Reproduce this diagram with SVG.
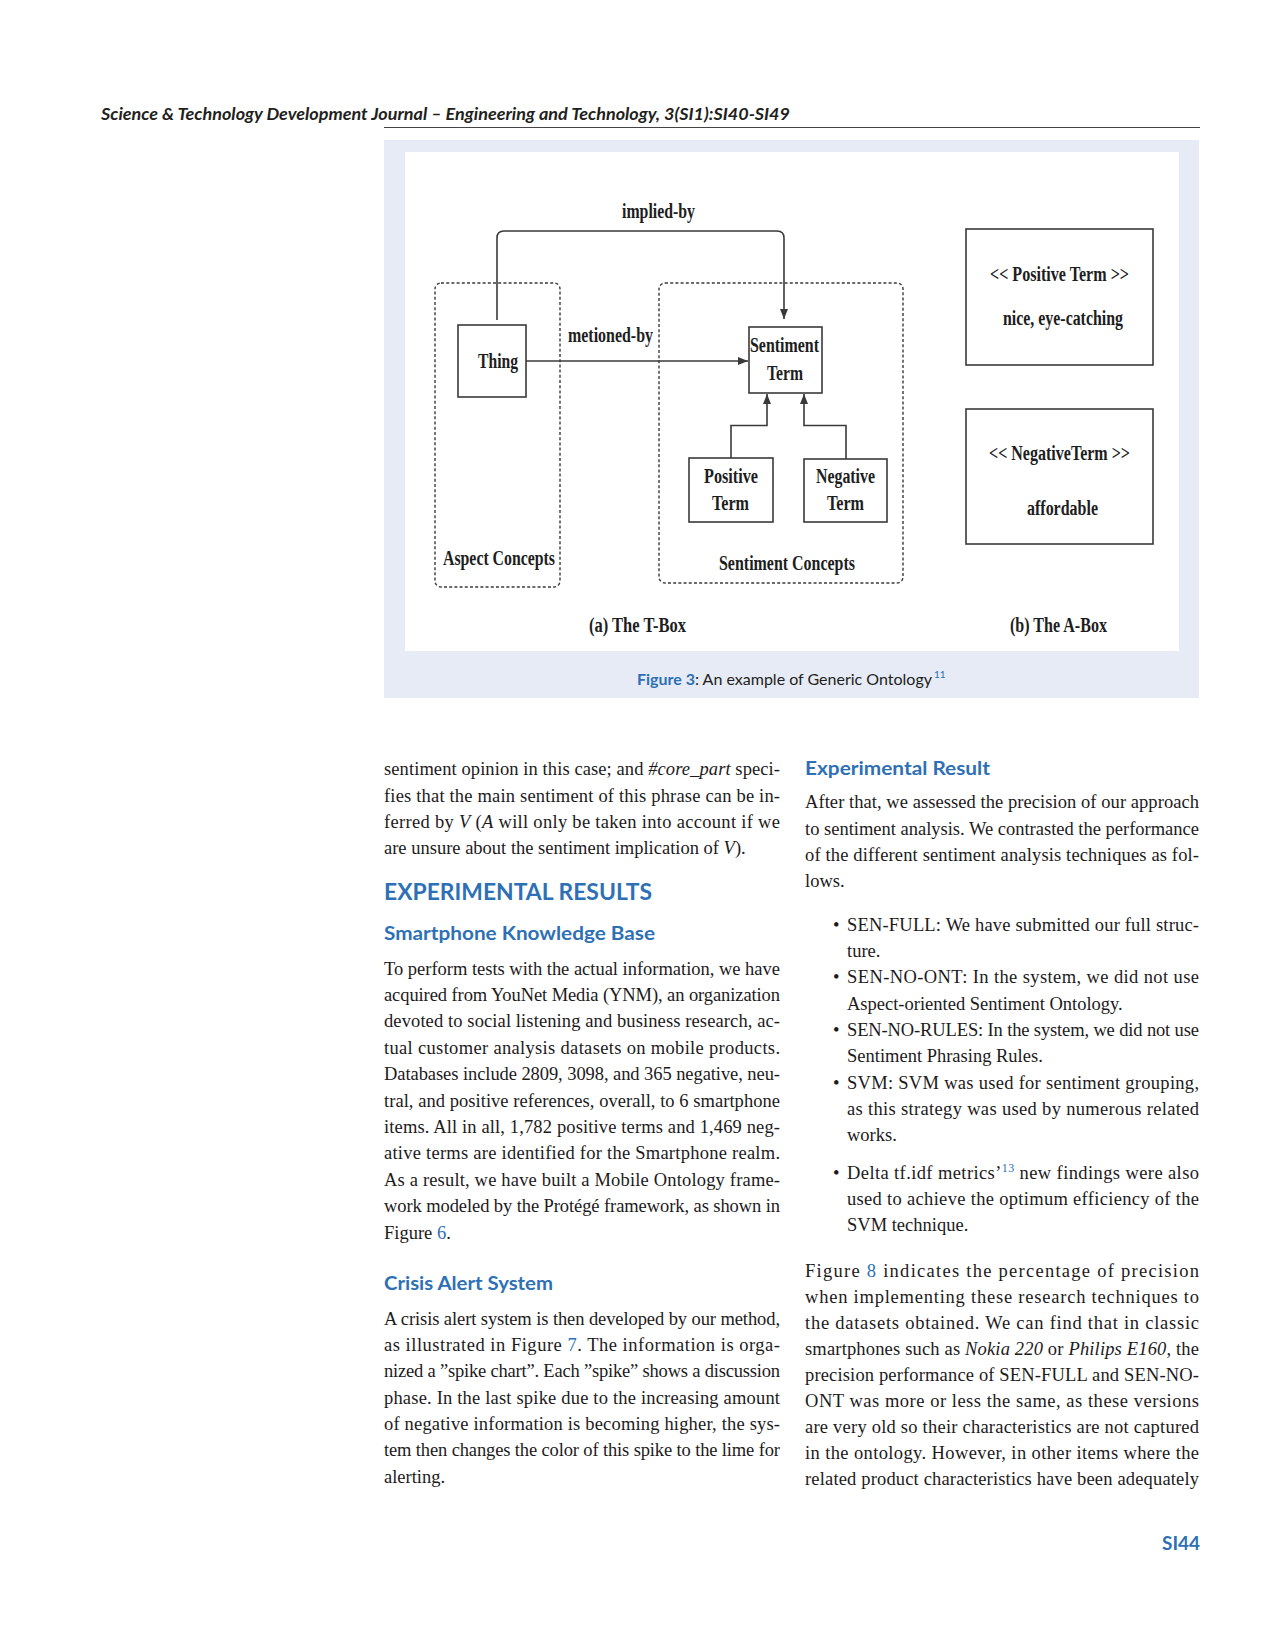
<svg xmlns="http://www.w3.org/2000/svg" width="1276" height="1649" viewBox="0 0 1276 1649">
<style>
.fig{font-family:"Liberation Serif","Times New Roman",serif;font-weight:bold;fill:#1e1e1e}
.box{fill:#fff;stroke:#3a3a3a;stroke-width:1.6}
.grp{fill:none;stroke:#3a3a3a;stroke-width:1.4;stroke-dasharray:3 2.2}
.con{fill:none;stroke:#3a3a3a;stroke-width:1.6}
.body{font-family:"Liberation Serif","Times New Roman",serif;font-size:18.5px;fill:#1d1a1b}
.h{font-family:Lato,"Open Sans",sans-serif;font-weight:bold;fill:#2e70b5}
.blue{fill:#2e70b5}
.it{font-style:italic}
</style>
<defs>
<marker id="arr" viewBox="0 0 10 8" refX="10" refY="4" markerWidth="10" markerHeight="8" markerUnits="userSpaceOnUse" orient="auto">
<path d="M0,0 L10,4 L0,8 z" fill="#3a3a3a"/>
</marker>
</defs>
<rect width="1276" height="1649" fill="#fff"/>

<!-- header -->
<text x="101" y="120" font-family="Lato,'Open Sans',sans-serif" font-weight="bold" font-style="italic" font-size="17" fill="#231f20" textLength="689" lengthAdjust="spacingAndGlyphs">Science &amp; Technology Development Journal – Engineering and Technology, 3(SI1):SI40-SI49</text>
<line x1="384" y1="127.5" x2="1200" y2="127.5" stroke="#444" stroke-width="1"/>

<!-- figure panel -->
<rect x="384" y="140" width="815" height="558" fill="#e6ebf6"/>
<rect x="405" y="152" width="774" height="499" fill="#fff"/>

<g id="aspect-concepts">
<rect class="grp" x="435" y="283" width="125" height="304" rx="6"/>
<text class="fig" x="443" y="565" font-size="20" textLength="112" lengthAdjust="spacingAndGlyphs">Aspect Concepts</text>
</g>
<g id="sentiment-concepts">
<rect class="grp" x="659" y="283" width="244" height="300" rx="6"/>
<text class="fig" x="719" y="570" font-size="20" textLength="136" lengthAdjust="spacingAndGlyphs">Sentiment Concepts</text>
</g>
<g id="thing">
<rect class="box" x="458" y="325" width="68" height="72"/>
<text class="fig" x="478" y="368" font-size="22" textLength="40" lengthAdjust="spacingAndGlyphs">Thing</text>
</g>
<g id="sentiment-term">
<rect class="box" x="749" y="327" width="73" height="66"/>
<text class="fig" x="750" y="352" font-size="20" textLength="69" lengthAdjust="spacingAndGlyphs">Sentiment</text>
<text class="fig" x="767" y="380" font-size="20" textLength="36" lengthAdjust="spacingAndGlyphs">Term</text>
</g>
<g id="positive-term">
<rect class="box" x="689" y="458" width="84" height="64"/>
<text class="fig" x="704" y="483" font-size="20" textLength="54" lengthAdjust="spacingAndGlyphs">Positive</text>
<text class="fig" x="712" y="510" font-size="20" textLength="37" lengthAdjust="spacingAndGlyphs">Term</text>
</g>
<g id="negative-term">
<rect class="box" x="804" y="459" width="83" height="63"/>
<text class="fig" x="816" y="483" font-size="20" textLength="59" lengthAdjust="spacingAndGlyphs">Negative</text>
<text class="fig" x="827" y="510" font-size="20" textLength="37" lengthAdjust="spacingAndGlyphs">Term</text>
</g>
<g id="abox-positive">
<rect class="box" x="966" y="229" width="187" height="136"/>
<text class="fig" x="990" y="281" font-size="20" textLength="139" lengthAdjust="spacingAndGlyphs">&lt;&lt; Positive Term &gt;&gt;</text>
<text class="fig" x="1003" y="325" font-size="20" textLength="120" lengthAdjust="spacingAndGlyphs">nice, eye-catching</text>
</g>
<g id="abox-negative">
<rect class="box" x="966" y="409" width="187" height="135"/>
<text class="fig" x="989" y="460" font-size="20" textLength="141" lengthAdjust="spacingAndGlyphs">&lt;&lt; NegativeTerm &gt;&gt;</text>
<text class="fig" x="1027" y="515" font-size="20" textLength="71" lengthAdjust="spacingAndGlyphs">affordable</text>
</g>

<g id="connectors">
<path class="con" d="M497,320 V238 Q497,231 504,231 H777 Q784,231 784,238 V319" marker-end="url(#arr)"/>
<path class="con" d="M526,361 H748" marker-end="url(#arr)"/>
<path class="con" d="M731,458 V425.5 H767 V394" marker-end="url(#arr)"/>
<path class="con" d="M846,459 V425.5 H804 V394" marker-end="url(#arr)"/>
<text class="fig" x="622" y="218" font-size="20" textLength="73" lengthAdjust="spacingAndGlyphs">implied-by</text>
<text class="fig" x="568" y="342" font-size="20" textLength="85" lengthAdjust="spacingAndGlyphs">metioned-by</text>
</g>

<text class="fig" x="589" y="632" font-size="20" textLength="97" lengthAdjust="spacingAndGlyphs">(a) The T-Box</text>
<text class="fig" x="1010" y="632" font-size="20" textLength="97" lengthAdjust="spacingAndGlyphs">(b) The A-Box</text>

<text x="637" y="685" font-family="Lato,'Open Sans',sans-serif" font-size="15" fill="#231f20" textLength="295" lengthAdjust="spacingAndGlyphs"><tspan class="blue" font-weight="bold">Figure 3</tspan>: An example of Generic Ontology</text>
<text x="934" y="678" font-family="Lato,'Open Sans',sans-serif" font-size="10" class="blue">11</text>

<g transform="translate(0,1.5)">
<!-- left column -->
<g class="body">
<text x="384" y="773" textLength="396" lengthAdjust="spacing">sentiment opinion in this case; and <tspan class="it">#core_part</tspan> speci-</text>
<text x="384" y="800" textLength="396" lengthAdjust="spacing">fies that the main sentiment of this phrase can be in-</text>
<text x="384" y="826" textLength="396" lengthAdjust="spacing">ferred by <tspan class="it">V</tspan> (<tspan class="it">A</tspan> will only be taken into account if we</text>
<text x="384" y="852">are unsure about the sentiment implication of <tspan class="it">V</tspan>).</text>

<text x="384" y="973" textLength="396" lengthAdjust="spacing">To perform tests with the actual information, we have</text>
<text x="384" y="999.4" textLength="396" lengthAdjust="spacing">acquired from YouNet Media (YNM), an organization</text>
<text x="384" y="1025.8" textLength="396" lengthAdjust="spacing">devoted to social listening and business research, ac-</text>
<text x="384" y="1052.2" textLength="396" lengthAdjust="spacing">tual customer analysis datasets on mobile products.</text>
<text x="384" y="1078.6" textLength="396" lengthAdjust="spacing">Databases include 2809, 3098, and 365 negative, neu-</text>
<text x="384" y="1105" textLength="396" lengthAdjust="spacing">tral, and positive references, overall, to 6 smartphone</text>
<text x="384" y="1131.4" textLength="396" lengthAdjust="spacing">items.  All in all, 1,782 positive terms and 1,469 neg-</text>
<text x="384" y="1157.8" textLength="396" lengthAdjust="spacing">ative terms are identified for the Smartphone realm.</text>
<text x="384" y="1184.2" textLength="396" lengthAdjust="spacing">As a result, we have built a Mobile Ontology frame-</text>
<text x="384" y="1210.6" textLength="396" lengthAdjust="spacing">work modeled by the Protégé framework, as shown in</text>
<text x="384" y="1237">Figure <tspan class="blue">6</tspan>.</text>

<text x="384" y="1323.3" textLength="396" lengthAdjust="spacing">A crisis alert system is then developed by our method,</text>
<text x="384" y="1349.6" textLength="396" lengthAdjust="spacing">as illustrated in Figure <tspan class="blue">7</tspan>.  The information is orga-</text>
<text x="384" y="1375.9" textLength="396" lengthAdjust="spacing">nized a ”spike chart”. Each ”spike” shows a discussion</text>
<text x="384" y="1402.2" textLength="396" lengthAdjust="spacing">phase.  In the last spike due to the increasing amount</text>
<text x="384" y="1428.5" textLength="396" lengthAdjust="spacing">of negative information is becoming higher, the sys-</text>
<text x="384" y="1454.8" textLength="396" lengthAdjust="spacing">tem then changes the color of this spike to the lime for</text>
<text x="384" y="1481.1">alerting.</text>
</g>
<text class="h" x="384" y="898" font-size="22" textLength="268" lengthAdjust="spacingAndGlyphs">EXPERIMENTAL RESULTS</text>
<text class="h" x="384" y="938" font-size="19" textLength="271" lengthAdjust="spacingAndGlyphs">Smartphone Knowledge Base</text>
<text class="h" x="384" y="1288" font-size="19" textLength="169" lengthAdjust="spacingAndGlyphs">Crisis Alert System</text>

<!-- right column -->
<text class="h" x="805" y="773" font-size="19" textLength="185" lengthAdjust="spacingAndGlyphs">Experimental Result</text>
<g class="body">
<text x="805" y="806.7" textLength="394" lengthAdjust="spacing">After that, we assessed the precision of our approach</text>
<text x="805" y="833" textLength="394" lengthAdjust="spacing">to sentiment analysis.  We contrasted the performance</text>
<text x="805" y="859.3" textLength="394" lengthAdjust="spacing">of the different sentiment analysis techniques as fol-</text>
<text x="805" y="885.6">lows.</text>

<text x="833" y="929.3">•</text>
<text x="847" y="929.3" textLength="352" lengthAdjust="spacing">SEN-FULL: We have submitted our full struc-</text>
<text x="847" y="955.6">ture.</text>
<text x="833" y="981.9">•</text>
<text x="847" y="981.9" textLength="352" lengthAdjust="spacing">SEN-NO-ONT: In the system, we did not use</text>
<text x="847" y="1008.2">Aspect-oriented Sentiment Ontology.</text>
<text x="833" y="1034.5">•</text>
<text x="847" y="1034.5" textLength="352" lengthAdjust="spacing">SEN-NO-RULES: In the system, we did not use</text>
<text x="847" y="1060.8">Sentiment Phrasing Rules.</text>
<text x="833" y="1087.1">•</text>
<text x="847" y="1087.1" textLength="352" lengthAdjust="spacing">SVM: SVM was used for sentiment grouping,</text>
<text x="847" y="1113.4" textLength="352" lengthAdjust="spacing">as this strategy was used by numerous related</text>
<text x="847" y="1139.7">works.</text>
<text x="833" y="1177.3">•</text>
<text x="847" y="1177.3" textLength="352" lengthAdjust="spacing">Delta tf.idf metrics’<tspan class="blue" font-size="12" dy="-7">13</tspan><tspan dy="7"> new findings were also</tspan></text>
<text x="847" y="1203.6" textLength="352" lengthAdjust="spacing">used to achieve the optimum efficiency of the</text>
<text x="847" y="1229.9">SVM technique.</text>

<text x="805" y="1275" textLength="394" lengthAdjust="spacing">Figure <tspan class="blue">8</tspan> indicates the percentage of precision</text>
<text x="805" y="1301" textLength="394" lengthAdjust="spacing">when implementing these research techniques to</text>
<text x="805" y="1327" textLength="394" lengthAdjust="spacing">the datasets obtained.  We can find that in classic</text>
<text x="805" y="1353" textLength="394" lengthAdjust="spacing">smartphones such as <tspan class="it">Nokia 220</tspan> or <tspan class="it">Philips E160</tspan>, the</text>
<text x="805" y="1379" textLength="394" lengthAdjust="spacing">precision performance of SEN-FULL and SEN-NO-</text>
<text x="805" y="1405" textLength="394" lengthAdjust="spacing">ONT was more or less the same, as these versions</text>
<text x="805" y="1431" textLength="394" lengthAdjust="spacing">are very old so their characteristics are not captured</text>
<text x="805" y="1457" textLength="394" lengthAdjust="spacing">in the ontology.  However, in other items where the</text>
<text x="805" y="1483" textLength="394" lengthAdjust="spacing">related product characteristics have been adequately</text>
</g>
</g>

<text class="h" x="1162" y="1550" font-size="19" textLength="38" lengthAdjust="spacingAndGlyphs">SI44</text>
</svg>
